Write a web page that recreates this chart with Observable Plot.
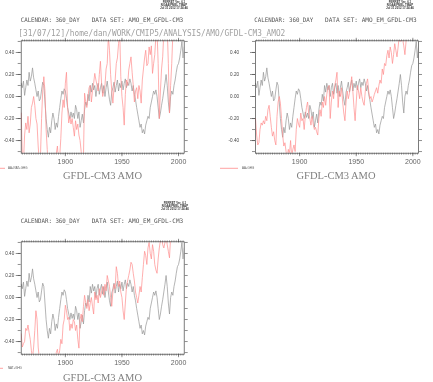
<!DOCTYPE html>
<html><head><meta charset="utf-8">
<script src="https://cdn.jsdelivr.net/npm/d3@7"></script>
<script src="https://cdn.jsdelivr.net/npm/@observablehq/plot@0.6"></script>
<style>
body{margin:0;background:#fff;}
#wrap{position:relative;width:433px;height:382px;overflow:hidden;background:#fff;}
.pl{position:absolute;}
#ov{position:absolute;left:0;top:0;pointer-events:none;}
</style></head><body>
<div id="wrap"></div>
<script>
const years = d3.range(1861, 2006);
// reference AMO (grey, same in all panels)
const obsAMO = [
 0.12,0.08,0.14,0.01,0.08,0.15,0.10,0.22,0.14,0.18,
 0.26,0.17,0.12,0.06,0.00,0.05,-0.04,-0.02,0.06,0.13,
 0.10,-0.05,-0.20,-0.30,-0.37,-0.28,-0.33,-0.22,-0.15,-0.20,
 -0.30,-0.24,-0.28,-0.18,-0.10,-0.02,0.05,0.02,0.07,0.05,
 -0.02,-0.10,-0.15,-0.20,-0.14,-0.19,-0.15,-0.20,-0.08,-0.12,
 -0.20,-0.14,-0.28,-0.22,-0.16,-0.24,-0.12,-0.05,-0.08,0.02,
 -0.04,0.10,0.04,0.12,0.06,0.10,0.00,0.08,0.12,0.02,
 0.08,0.12,0.03,0.10,0.00,0.08,0.14,0.05,-0.03,-0.08,
 0.04,0.08,0.13,0.04,0.10,0.15,0.05,0.12,0.08,0.14,
 0.06,0.12,0.16,0.08,0.13,0.10,0.16,0.12,0.05,0.10,
 0.02,-0.03,-0.10,-0.16,-0.22,-0.28,-0.25,-0.33,-0.30,-0.34,
 -0.26,-0.22,-0.18,-0.20,-0.10,-0.05,0.00,0.05,0.02,0.06,
 0.00,-0.10,-0.20,-0.15,-0.08,-0.02,0.05,0.12,0.20,0.10,
 -0.05,-0.15,0.00,0.05,0.02,0.10,0.15,0.22,0.28,0.30,
 0.35,0.42,0.50,0.35,0.45];
const aaNatGhg = [
 -0.15,-0.55,-0.60,-0.35,-0.24,-0.30,-0.18,-0.33,-0.25,-0.10,
 -0.06,0.00,-0.08,-0.20,-0.25,-0.45,-0.60,-0.55,-0.20,0.05,
 0.18,0.05,-0.30,-0.48,-0.65,-0.58,-0.70,-0.60,-0.55,-0.65,
 -0.60,-0.52,-0.45,-0.60,-0.55,-0.38,-0.15,-0.03,-0.10,0.12,
 0.22,-0.10,-0.24,-0.18,-0.25,-0.20,-0.28,-0.36,-0.22,-0.30,
 -0.25,-0.35,-0.40,-0.50,-0.60,-0.55,0.03,-0.05,-0.10,0.00,
 0.08,0.10,-0.05,0.05,0.12,0.21,0.15,0.10,0.05,0.20,
 0.32,0.12,0.00,0.05,0.10,0.25,0.30,0.55,0.42,0.20,
 0.05,-0.06,0.08,0.15,0.30,0.35,0.48,0.60,0.18,0.00,
 -0.10,-0.26,0.02,0.15,0.10,0.24,0.30,0.36,0.22,0.10,
 -0.05,0.05,0.08,-0.02,0.10,0.05,-0.06,0.15,0.25,0.35,
 0.42,0.28,0.30,0.45,0.38,0.46,0.21,0.30,0.38,0.55,
 0.60,0.30,-0.20,0.05,0.25,0.36,0.58,0.65,0.55,0.62,
 0.30,-0.15,0.10,0.30,0.58,0.65,0.70,0.60,0.75,0.68,
 0.80,0.72,0.85,0.78,0.82];
const aaGhg = [
 -0.20,-0.35,-0.44,-0.42,-0.30,-0.24,-0.26,-0.22,-0.25,-0.18,
 -0.22,-0.12,-0.08,-0.18,-0.28,-0.36,-0.32,-0.40,-0.44,-0.18,
 -0.05,0.00,-0.06,-0.20,-0.35,-0.45,-0.42,-0.50,-0.55,-0.48,
 -0.52,-0.40,-0.55,-0.48,-0.44,-0.50,-0.30,-0.20,-0.25,-0.28,
 -0.15,-0.22,-0.20,-0.30,-0.18,-0.10,-0.05,-0.15,-0.20,-0.26,
 -0.18,-0.25,-0.30,-0.28,-0.32,-0.35,-0.20,-0.12,-0.18,-0.05,
 -0.10,0.00,-0.08,0.02,0.08,0.10,-0.20,-0.05,0.05,-0.02,
 0.10,0.15,0.22,-0.10,0.05,0.00,0.08,-0.05,-0.15,-0.22,
 -0.05,0.05,-0.02,0.03,0.10,0.18,0.05,-0.10,-0.22,-0.05,
 0.10,0.05,-0.02,0.08,0.00,-0.05,-0.08,0.05,0.12,0.16,
 0.05,-0.02,0.00,-0.05,-0.02,0.02,0.05,0.08,0.03,0.10,
 0.15,0.12,0.25,0.20,0.30,0.28,0.37,0.42,0.35,0.45,
 0.40,0.30,0.38,0.48,0.42,0.36,0.45,0.55,0.50,0.60,
 0.52,0.46,0.38,0.50,0.58,0.65,0.55,0.70,0.62,0.68,
 0.60,0.75,0.70,0.65,0.72];
const natGhg = [
 -0.33,-0.45,-0.42,-0.40,-0.28,-0.30,-0.25,-0.32,-0.38,-0.48,
 -0.55,-0.45,-0.30,-0.12,-0.20,-0.45,-0.55,-0.60,-0.55,-0.62,
 -0.58,-0.65,-0.60,-0.55,-0.62,-0.58,-0.60,-0.55,-0.52,-0.58,
 -0.55,-0.50,-0.47,-0.55,-0.48,-0.38,-0.42,-0.25,-0.20,-0.07,
 -0.12,-0.20,-0.18,-0.30,-0.24,-0.28,-0.20,-0.22,-0.30,-0.25,
 -0.38,-0.46,-0.20,-0.15,-0.22,-0.08,0.02,-0.05,-0.10,-0.02,
 -0.12,-0.05,0.00,-0.08,-0.15,0.05,-0.02,0.02,-0.05,0.08,
 0.00,0.05,0.10,0.02,0.12,0.06,0.20,0.15,0.10,0.00,
 -0.08,0.05,0.12,0.08,0.28,0.22,0.10,0.15,0.05,0.00,
 -0.12,-0.20,-0.05,0.10,0.15,0.20,0.25,0.32,0.30,0.22,
 0.15,0.05,0.00,-0.05,0.02,0.10,0.05,0.18,0.30,0.42,
 0.38,0.30,0.45,0.50,0.40,0.35,0.48,0.42,0.30,0.25,
 0.22,0.35,0.45,0.52,0.55,0.48,0.45,0.50,0.55,0.48,
 0.42,0.36,0.55,0.62,0.58,0.65,0.70,0.62,0.75,0.68,
 0.72,0.78,0.70,0.75,0.80];
const yTicks = [-0.4,-0.2,0,0.2,0.4];
const yMinor = [-0.5,-0.4,-0.3,-0.2,-0.1,0,0.1,0.2,0.3,0.4,0.5];
const xTicks = [1900,1950,2000];
const xMinor = d3.range(1862, 2005, 2);
const legendLabels = ["AA+NAT+GHG","AA+GHG","NAT+GHG"];
const title = "GFDL-CM3 AMO";
const calText = "CALENDAR: 360_DAY";
const dsText = "DATA SET: AMO_EM_GFDL-CM3";
const pathText = "[31/07/12]/home/dan/WORK/CMIP5/ANALYSIS/AMO/GFDL-CM3_AMO2";
const stamp = ["FERRET Ver. 6.1","NOAA/PMEL TMAP","Jul 31 2012 17:24:46"];

const GREY = "#959595", RED = "#ff8c8c", AX = "#444";

function panel(red, o) {
  const rows = years.map((y, i) => ({year: y, obs: obsAMO[i], sim: red[i]}));
  const p = Plot.plot({
    width: o.w, height: o.h,
    marginLeft: o.ml, marginRight: o.mr, marginTop: o.mt, marginBottom: o.mb,
    x: {domain: [1861, 2005]},
    y: {domain: [-0.515, 0.506]},
    style: {fontFamily: "'Liberation Sans', Arial, sans-serif", background: "transparent", color: AX},
    marks: [
      Plot.lineY(rows, {x: "year", y: "obs", stroke: GREY, strokeWidth: 0.7, clip: true}),
      Plot.lineY(rows, {x: "year", y: "sim", stroke: RED, strokeWidth: 0.7, clip: true, mixBlendMode: "multiply"}),
      Plot.frame({stroke: AX, strokeWidth: 0.7}),
      Plot.axisY({ticks: yTicks, tickSize: 5, tickPadding: o.yPad, tickFormat: d => d.toFixed(2), fontSize: 4.6, label: null, strokeWidth: 0.6}),
      Plot.axisY({ticks: yMinor, tickSize: 3, tickFormat: () => "", label: null, strokeWidth: 0.6}),
      Plot.axisY({anchor: "right", ticks: yMinor, tickSize: 3, tickFormat: () => "", label: null, strokeWidth: 0.6}),
      Plot.axisX({anchor: "bottom", ticks: xTicks, tickSize: 3.5, tickPadding: 2.5, tickFormat: d => String(d), fontSize: 7, fill: "#666", label: null, strokeWidth: 0.6}),
      Plot.axisX({anchor: "bottom", ticks: xMinor, tickSize: 2, tickFormat: () => "", label: null, strokeWidth: 0.5}),
      Plot.axisX({anchor: "top", ticks: xTicks, tickSize: 3.5, tickFormat: () => "", label: null, strokeWidth: 0.6}),
      Plot.axisX({anchor: "top", ticks: xMinor, tickSize: 2, tickFormat: () => "", label: null, strokeWidth: 0.5})
    ]
  });
  p.classList.add("pl");
  p.style.left = o.x + "px";
  p.style.top = o.y + "px";
  document.getElementById("wrap").appendChild(p);
}

panel(aaNatGhg, {x: 0, y: 30, w: 200, h: 140, ml: 20.7, mr: 16.3, mt: 10.3, mb: 17.3, yPad: 2});
panel(aaGhg, {x: 220, y: 30, w: 210, h: 140, ml: 35, mr: 12, mt: 10.3, mb: 17.3, yPad: 11.5});
panel(natGhg, {x: 0, y: 230, w: 200, h: 140, ml: 20.7, mr: 16.3, mt: 11.3, mb: 16.3, yPad: 2});

// overlay text
const ns = "http://www.w3.org/2000/svg";
const ov = document.createElementNS(ns, "svg");
ov.setAttribute("id", "ov");
ov.setAttribute("width", 433); ov.setAttribute("height", 382);
document.getElementById("wrap").appendChild(ov);
function txt(s, x, y, a) {
  const t = document.createElementNS(ns, "text");
  t.textContent = s;
  t.setAttribute("x", x); t.setAttribute("y", y);
  for (const k in a) t.setAttribute(k, a[k]);
  ov.appendChild(t); return t;
}
function seg(x1, x2, y) {
  const l = document.createElementNS(ns, "line");
  l.setAttribute("x1", x1); l.setAttribute("x2", x2);
  l.setAttribute("y1", y); l.setAttribute("y2", y);
  l.setAttribute("stroke", RED); l.setAttribute("stroke-width", 0.8);
  ov.appendChild(l);
}
const mono = {"font-family": "'DejaVu Sans Mono', monospace", "font-size": 6.2, fill: "#555", lengthAdjust: "spacingAndGlyphs"};
const heads = [[20.7, 91.7, 21.5], [254.3, 325, 21.5], [20.7, 91.7, 223]];
heads.forEach(([a, b, y]) => {
  txt(calText, a, y, {...mono, textLength: 59});
  txt(dsText, b, y, {...mono, textLength: 91.6});
});
txt(pathText, 18.3, 36.3, {"font-family": "'DejaVu Sans Mono', monospace", "font-size": 8.6, fill: "#a0a0a0", textLength: 267, lengthAdjust: "spacingAndGlyphs"});
const stamps = [[174, 3.2], [400, 3.2], [175, 203.5]];
stamps.forEach(([x, y]) => stamp.forEach((s, i) =>
  txt(s, x, y + i * 3, {"font-family": "'Liberation Sans', sans-serif", "font-size": 2.9, fill: "#333", "text-anchor": "middle", "font-weight": "bold"})));
const titles = [[102.5, 179], [336, 179], [102.5, 381]];
titles.forEach(([x, y]) => txt(title, x, y, {"font-family": "'Liberation Serif', 'DejaVu Serif', serif", "font-size": 10.5, fill: "#808080", "text-anchor": "middle"}));
const legs = [[-13, 5, 8, 168.3], [220, 238, 242, 168.3], [-13, 3, 8, 368.3]];
legs.forEach(([a, b, tx, y], i) => {
  seg(a, b, y);
  txt(legendLabels[i], tx, y + 1, {"font-family": "'Liberation Sans', sans-serif", "font-size": 2.9, fill: "#555"});
});
</script>
</body></html>
